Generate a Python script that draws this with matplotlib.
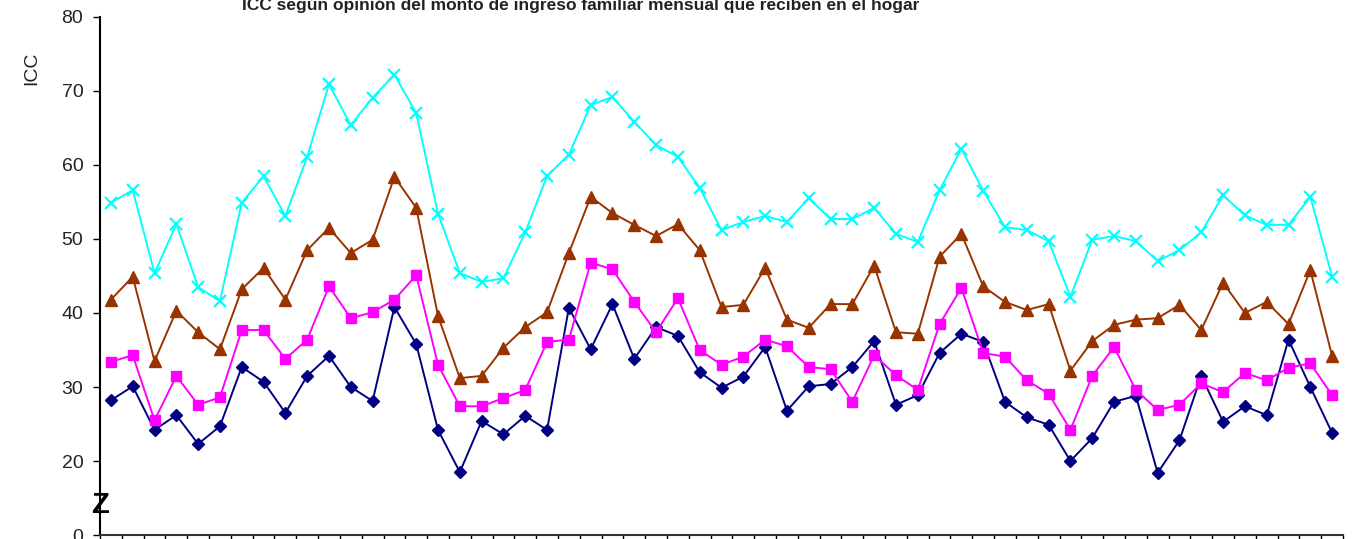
import matplotlib
matplotlib.use('Agg')
import matplotlib.pyplot as plt
import numpy as np

# ICC series (57 periods)
icc_bajo = [28.2, 30.1, 24.2, 26.2, 22.3, 24.7, 32.7, 30.7, 26.5, 31.5,
            34.2, 30.0, 28.1, 40.8, 35.8, 24.2, 18.5, 25.4, 23.6, 26.1,
            24.2, 40.7, 35.1, 41.2, 33.8, 38.1, 36.9, 32.0, 29.9, 31.4,
            35.4, 26.8, 30.1, 30.4, 32.7, 36.2, 27.6, 28.9, 34.6, 37.2,
            36.1, 28.0, 25.9, 24.9, 20.0, 23.1, 28.0, 28.8, 18.4, 22.8,
            31.5, 25.3, 27.4, 26.2, 36.4, 30.0, 23.8]
icc_medio_bajo = [33.4, 34.3, 25.5, 31.5, 27.6, 28.6, 37.7, 37.7, 33.8, 36.4,
                  43.6, 39.3, 40.1, 41.8, 45.1, 33.0, 27.4, 27.4, 28.5, 29.6,
                  36.1, 36.4, 46.8, 45.9, 41.5, 37.4, 42.0, 35.0, 33.0, 34.1,
                  36.4, 35.5, 32.7, 32.4, 28.0, 34.3, 31.6, 29.6, 38.5, 43.4,
                  34.6, 34.1, 30.9, 29.1, 24.2, 31.5, 35.4, 29.6, 26.9, 27.6,
                  30.5, 29.3, 31.9, 30.9, 32.6, 33.2, 28.9]
icc_medio_alto = [41.8, 44.9, 33.5, 40.3, 37.4, 35.1, 43.2, 46.1, 41.8, 48.5,
                  51.5, 48.1, 49.9, 58.4, 54.2, 39.6, 31.2, 31.5, 35.3, 38.1,
                  40.1, 48.1, 55.7, 53.5, 51.9, 50.4, 52.0, 48.5, 40.8, 41.1,
                  46.1, 39.1, 38.0, 41.2, 41.2, 46.4, 37.4, 37.2, 47.6, 50.7,
                  43.6, 41.5, 40.4, 41.2, 32.2, 36.2, 38.4, 39.1, 39.3, 41.1,
                  37.7, 44.1, 40.0, 41.5, 38.5, 45.8, 34.2]
icc_alto = [54.9, 56.6, 45.4, 52.0, 43.5, 41.6, 54.9, 58.5, 53.1, 61.1,
            70.9, 65.4, 69.1, 72.2, 67.0, 53.4, 45.4, 44.2, 44.7, 50.9,
            58.5, 61.4, 68.1, 69.2, 65.8, 62.7, 61.1, 56.9, 51.2, 52.3,
            53.1, 52.3, 55.5, 52.7, 52.7, 54.2, 50.7, 49.6, 56.6, 62.2,
            56.5, 51.6, 51.2, 49.7, 42.2, 49.9, 50.4, 49.7, 47.0, 48.5,
            50.9, 55.9, 53.2, 51.9, 51.9, 55.7, 44.9]

y_ticks = [10, 20, 30, 40, 50, 60, 70, 80]
y_ticklabels = ['0', '20', '30', '40', '50', '60', '70', '80']

sans = ['Liberation Sans', 'DejaVu Sans']

fig = plt.figure(figsize=(13.57, 5.39), dpi=100)
ax = fig.add_axes([0.0737, 0.0074, 0.9160, 0.9611])

x = np.arange(len(icc_alto))
ax.plot(x, icc_bajo, color='#000080', lw=1.4, marker='D', ms=6.5,
        mfc='#000080', mec='#000080')
ax.plot(x, icc_medio_bajo, color='#FF00FF', lw=1.4, marker='s', ms=7.5,
        mfc='#FF00FF', mec='#FF00FF')
ax.plot(x, icc_medio_alto, color='#993300', lw=1.4, marker='^', ms=8,
        mfc='#993300', mec='#993300')
ax.plot(x, icc_alto, color='#00FFFF', lw=1.4, marker='x', ms=9, mew=1.6)

ax.set_xlim(-0.5, len(x) - 0.5)
ax.set_ylim(10, 80)

ax.set_xticks(np.arange(-0.5, len(x), 1.0))
ax.set_xticklabels([])
ax.tick_params(axis='x', direction='out', length=6, width=1, color='black')
ax.set_yticks(y_ticks)
ax.set_yticklabels(y_ticklabels, family=sans, fontsize=14, color='#222222')
ax.tick_params(axis='y', direction='out', length=5, width=1, pad=7)

for side in ['top', 'right']:
    ax.spines[side].set_visible(False)
ax.spines['left'].set_linewidth(1.5)
ax.spines['bottom'].set_linewidth(1.5)
ax.spines['bottom'].set_color('#333333')

ax.set_ylabel('ICC', fontsize=14, family=sans, color='#222222')
ax.yaxis.set_label_coords(-0.048, 0.90)

# axis break mark
ax.text(-0.5, 14.0, 'Z', fontsize=21, fontweight='bold', ha='center', va='center',
        family=sans, clip_on=False)

fig.text(0.428, 0.982, 'ICC según opinión del monto de ingreso familiar mensual que reciben en el hogar',
         ha='center', va='baseline', fontsize=12.5, fontweight='bold', family=sans,
         color='#222222')

fig.savefig('out.png', dpi=100)
